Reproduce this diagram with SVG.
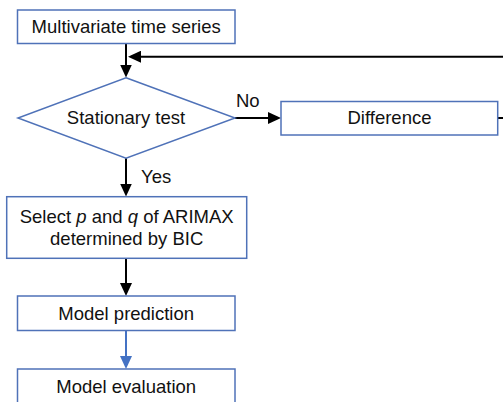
<svg xmlns="http://www.w3.org/2000/svg" width="503" height="402" viewBox="0 0 503 402">
<style>
.box{fill:#fff;stroke:#4f72b8;stroke-width:1.5}
.t{font-family:"Liberation Sans",Arial,sans-serif;font-size:18.5px;fill:#111;text-anchor:middle}
.lbl{font-family:"Liberation Sans",Arial,sans-serif;font-size:18.5px;fill:#111}
.c{fill:none;stroke:#000;stroke-width:2}
.cb{fill:none;stroke:#4472c4;stroke-width:2}
</style>
<defs>
<marker id="ah" markerUnits="userSpaceOnUse" markerWidth="13" markerHeight="12" refX="10" refY="6" orient="auto">
<path d="M0,0 L13,6 L0,12 z" fill="#000"/>
</marker>
<marker id="ahb" markerUnits="userSpaceOnUse" markerWidth="13" markerHeight="12" refX="10" refY="6" orient="auto">
<path d="M0,0 L13,6 L0,12 z" fill="#4472c4"/>
</marker>
</defs>
<rect width="503" height="402" fill="#fff"/>
<g id="connectors">
<path class="c" d="M126,43.5 V74.5" marker-end="url(#ah)"/>
<path class="c" d="M504,56.7 H131" marker-end="url(#ah)"/>
<path class="c" d="M235,118 H278" marker-end="url(#ah)"/>
<path class="c" d="M498,118 H504"/>
<path class="c" d="M126,158 V193.5" marker-end="url(#ah)"/>
<path class="c" d="M126,258.5 V293" marker-end="url(#ah)"/>
<path class="cb" d="M126,330.5 V366" marker-end="url(#ahb)"/>
<text class="lbl" x="236" y="107">No</text>
<text class="lbl" x="141" y="183">Yes</text>
</g>
<g id="n1">
<rect class="box" x="17.5" y="10" width="217.5" height="33.5"/>
<text class="t" x="126.2" y="33.3">Multivariate time series</text>
</g>
<g id="n2">
<polygon class="box" points="126,77.7 235,118 126,158.3 18,118"/>
<text class="t" x="126" y="124.3">Stationary test</text>
</g>
<g id="n3">
<rect class="box" x="281" y="101.5" width="216.7" height="33.5"/>
<text class="t" x="389.5" y="124.3">Difference</text>
</g>
<g id="n4">
<rect class="box" x="6.7" y="196.7" width="240" height="61.6"/>
<text class="t" x="126.7" y="222.7">Select <tspan font-style="italic">p</tspan> and <tspan font-style="italic">q</tspan> of ARIMAX</text>
<text class="t" x="126.7" y="244.5">determined by BIC</text>
</g>
<g id="n5">
<rect class="box" x="17.5" y="296" width="217.5" height="34.5"/>
<text class="t" x="126.2" y="320">Model prediction</text>
</g>
<g id="n6">
<rect class="box" x="17.5" y="369" width="217.5" height="40"/>
<text class="t" x="126.2" y="392.5">Model evaluation</text>
</g>
</svg>
